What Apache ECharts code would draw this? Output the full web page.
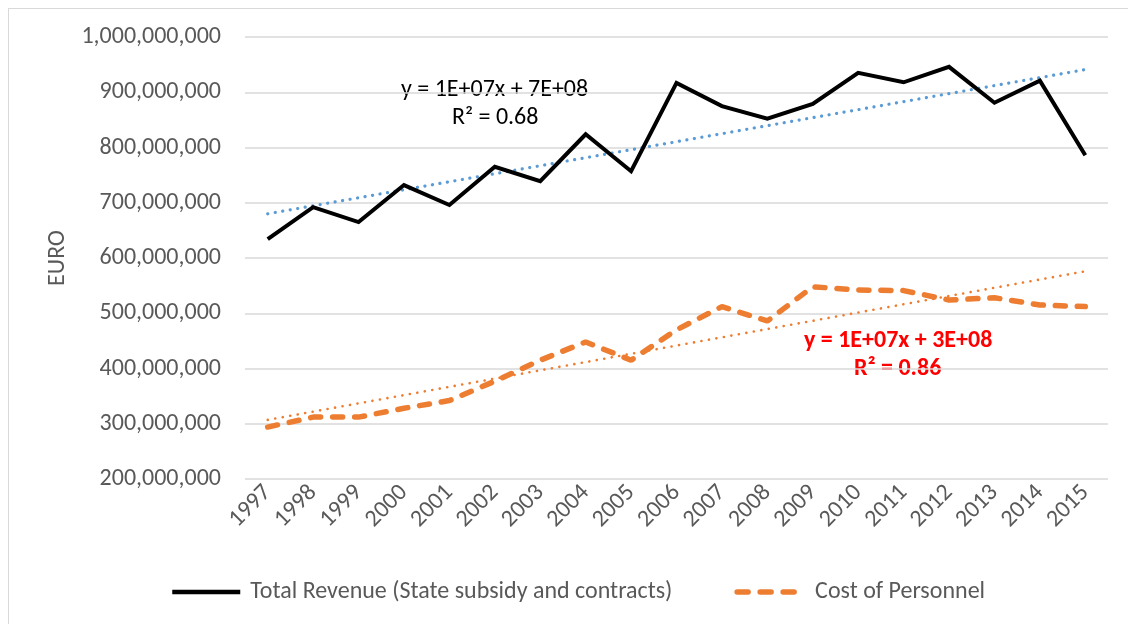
<!DOCTYPE html>
<html>
<head>
<meta charset="utf-8">
<script src="https://cdn.jsdelivr.net/npm/echarts@6/dist/echarts.min.js"></script>
<style>
  html, body { margin: 0; padding: 0; background: #fff; overflow: hidden; }
  .frame {
    position: absolute; left: 8px; top: 8px;
    width: 1200px; height: 700px;
    border-left: 1px solid #d9d9d9; border-top: 1px solid #d9d9d9;
  }
  #chart { position: absolute; left: 0; top: 0; width: 1128px; height: 624px; }
</style>
</head>
<body>
<div class="frame"></div>
<div id="chart"></div>
<script>
const years = ["1997", "1998", "1999", "2000", "2001", "2002", "2003", "2004", "2005", "2006",
  "2007", "2008", "2009", "2010", "2011", "2012", "2013", "2014", "2015"];

// Total Revenue (State subsidy and contracts), EURO
const revenue = [634e6, 692e6, 665e6, 732e6, 696e6, 765e6, 739e6, 824e6, 757e6, 917e6,
  875e6, 852e6, 879e6, 935e6, 918e6, 946e6, 881e6, 921e6, 786e6];

// Cost of Personnel, EURO
const personnel = [294e6, 312e6, 312e6, 328e6, 342e6, 377e6, 415e6, 448e6, 415e6, 470e6,
  512e6, 486e6, 548e6, 542e6, 541e6, 524e6, 528e6, 515e6, 512e6];

// linear trendlines, read at the first and last year
const revenueTrend = [680e6, 941e6];
const personnelTrend = [307e6, 576e6];

const yTicks = { min: 200e6, max: 1000e6, step: 100e6 };

const font = "Carlito, Lato, 'Open Sans', sans-serif";
const fs = 24;

// trend series: only the two end points, joined straight
const trendData = (ends) => years.map((y, i) =>
  i === 0 ? ends[0] : i === years.length - 1 ? ends[1] : null);

const chart = echarts.init(document.getElementById("chart"));

const option = {
  animation: false,
  grid: { left: 245, right: 20, top: 37, bottom: 145 },
  legend: {
    data: [
      {
        name: "Total Revenue (State subsidy and contracts)",
        itemStyle: { opacity: 0 },
        lineStyle: { color: "#000", width: 4.5, type: "solid" },
      },
      {
        name: "Cost of Personnel",
        itemStyle: { opacity: 0 },
        lineStyle: { color: "#ed7d31", width: 5.5, type: [11, 12], cap: "round" },
      },
    ],
    bottom: 15,
    left: 165,
    itemWidth: 68,
    itemHeight: 14,
    itemGap: 62,
    textStyle: { fontFamily: font, fontSize: fs, color: "#595959", padding: [0, 0, 0, 5] },
  },
  xAxis: {
    type: "category",
    data: years,
    boundaryGap: true,
    axisTick: { show: false },
    axisLine: { show: false },
    axisLabel: {
      rotate: 45,
      margin: 10,
      interval: 0,
      fontFamily: font,
      fontSize: fs,
      color: "#595959",
    },
  },
  yAxis: {
    type: "value",
    min: yTicks.min,
    max: yTicks.max,
    interval: yTicks.step,
    name: "EURO",
    nameLocation: "middle",
    nameGap: 171,
    nameTextStyle: { fontFamily: font, fontSize: fs, color: "#595959" },
    axisLabel: {
      margin: 24,
      fontFamily: font,
      fontSize: fs,
      color: "#595959",
      formatter: (v) => v.toLocaleString("en-US"),
    },
    splitLine: { lineStyle: { color: "#d9d9d9", width: 1.5 } },
  },
  series: [
    {
      name: "revenue trend",
      type: "line",
      data: trendData(revenueTrend),
      connectNulls: true,
      symbol: "none",
      z: 1,
      lineStyle: { color: "#5b9bd5", width: 3.2, type: [0.1, 7.5], cap: "round" },
    },
    {
      name: "personnel trend",
      type: "line",
      data: trendData(personnelTrend),
      connectNulls: true,
      symbol: "none",
      z: 1,
      lineStyle: { color: "#ed7d31", width: 2.6, type: [0.1, 7.5], cap: "round" },
    },
    {
      name: "Total Revenue (State subsidy and contracts)",
      type: "line",
      data: revenue,
      symbol: "none",
      z: 3,
      itemStyle: { color: "#000" },
      lineStyle: { color: "#000", width: 4, join: "miter" },
    },
    {
      name: "Cost of Personnel",
      type: "line",
      data: personnel,
      symbol: "none",
      z: 2,
      itemStyle: { color: "#ed7d31" },
      lineStyle: { color: "#ed7d31", width: 5.5, type: [10, 12], cap: "round" },
    },
  ],
  graphic: [
    {
      type: "text", left: 401, top: 78,
      style: { text: "y = 1E+07x + 7E+08", font: fs + "px " + font, fill: "#000" },
    },
    {
      type: "text", left: 452, top: 106,
      style: { text: "R² = 0.68", font: fs + "px " + font, fill: "#000" },
    },
    {
      type: "text", left: 804, top: 329,
      style: { text: "y = 1E+07x + 3E+08", font: "bold " + fs + "px " + font, fill: "#ff0000" },
    },
    {
      type: "text", left: 854, top: 357,
      style: { text: "R² = 0.86", font: "bold " + fs + "px " + font, fill: "#ff0000" },
    },
  ],
};

chart.setOption(option);
</script>
</body>
</html>
